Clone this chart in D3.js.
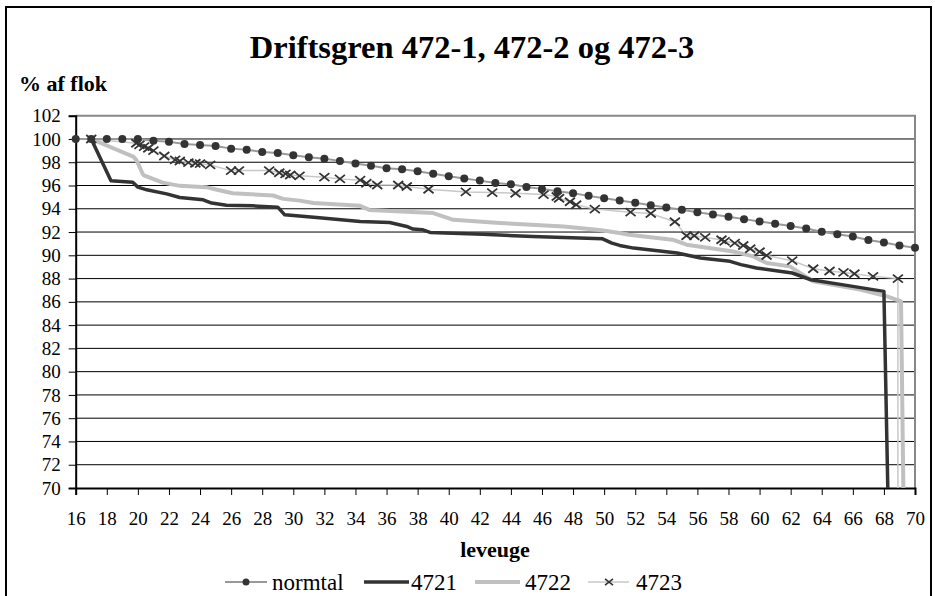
<!DOCTYPE html>
<html>
<head>
<meta charset="utf-8">
<script src="https://cdn.jsdelivr.net/npm/d3@7/dist/d3.min.js"></script>
</head>
<body style="margin:0">
<svg id="fig" width="935" height="596"></svg>
<script>
// ---- data ----
const titleText = "Driftsgren 472-1, 472-2 og 472-3";
const yTitle = "% af flok";
const xTitle = "leveuge";
const xTicks = d3.range(16, 71, 2);
const yTicks = d3.range(70, 103, 2);

const normtalWeeks = d3.range(16, 71, 1);
const normtalValues = [100, 100, 100, 100, 100, 99.85, 99.77, 99.57, 99.49, 99.4,
  99.17, 99.08, 98.88, 98.8, 98.6, 98.42, 98.31, 98.11, 97.9, 97.7,
  97.48, 97.4, 97.23, 97.02, 96.8, 96.6, 96.42, 96.22, 96.11, 95.88,
  95.71, 95.51, 95.34, 95.11, 94.91, 94.71, 94.51, 94.31, 94.11, 93.91,
  93.71, 93.51, 93.31, 93.11, 92.91, 92.71, 92.51, 92.31, 92.02, 91.82,
  91.62, 91.31, 91.11, 90.85, 90.65];

const s4721Weeks = [17, 18.27, 19.67, 20, 20.57, 21.85, 22.7, 24.2, 24.75, 25.7, 27.4, 29.0, 29.45,
  31.5, 34.3, 36.2, 37.3, 37.7, 38.3, 38.8, 42.2, 45.4, 49.9, 50.5, 51.0, 51.9, 54.7, 56.2,
  58.1, 58.8, 59.8, 62.1, 63.3, 66.0, 68.0, 68.25];
const s4721Values = [100, 96.4, 96.28, 95.86, 95.63, 95.28, 94.97, 94.77, 94.49, 94.31, 94.25, 94.14, 93.48,
  93.25, 92.9, 92.82, 92.48, 92.26, 92.2, 91.97, 91.8, 91.62, 91.42, 91.05, 90.85, 90.62, 90.2, 89.77,
  89.48, 89.2, 88.91, 88.48, 87.9, 87.33, 86.9, 70];

const s4722Weeks = [17, 19.7, 19.9, 20.35, 21.6, 22.7, 24.4, 25.1, 26.1, 28.7, 29.35, 30.4, 31.3, 34.3,
  34.9, 39.0, 40.3, 43.3, 47.4, 49.7, 51.0, 51.6, 54.4, 55.3, 58.3, 59.6, 60.45, 61.95, 63.45,
  66.45, 68.2, 69.1, 69.25];
const s4722Values = [100, 98.48, 98.2, 96.9, 96.25, 95.97, 95.86, 95.63, 95.34, 95.14, 94.85, 94.7, 94.5, 94.25,
  93.9, 93.63, 93.05, 92.77, 92.48, 92.17, 91.91, 91.77, 91.34, 90.91, 90.33, 89.91, 89.34, 89.05, 87.76,
  87.05, 86.47, 86.05, 70];

const s4723Weeks = [17, 19.9, 20.1, 20.4, 20.67, 21.0, 21.7, 22.4, 22.7, 23.25, 23.7, 24.0, 24.65, 26.0,
  26.5, 28.45, 29.1, 29.5, 29.8, 30.4, 32.0, 33.0, 34.3, 34.7, 35.4, 36.75, 37.3, 38.7, 41.1, 42.8,
  44.3, 46.1, 46.95, 47.1, 47.8, 48.2, 49.4, 51.7, 53.0, 54.55, 55.3, 55.8, 56.5, 57.55, 57.75,
  58.4, 58.95, 59.4, 60.0, 60.45, 62.1, 63.45, 64.5, 65.4, 66.1, 67.3, 68.9, 68.9];
const s4723Values = [100, 99.63, 99.49, 99.34, 99.2, 99.0, 98.54, 98.2, 98.11, 97.97, 97.91, 97.88, 97.77, 97.28,
  97.28, 97.28, 97.1, 97.0, 96.9, 96.83, 96.72, 96.57, 96.46, 96.2, 96.05, 96.05, 95.91, 95.68, 95.45, 95.39,
  95.34, 95.22, 95.05, 94.91, 94.6, 94.34, 93.97, 93.71, 93.6, 92.88, 91.68, 91.68, 91.54, 91.34, 91.2,
  91.05, 90.85, 90.57, 90.31, 89.99, 89.54, 88.85, 88.65, 88.53, 88.42, 88.19, 88.0, 70];

const seriesNames = ["normtal", "4721", "4722", "4723"];

// ---- layout ----
const FONT = "'Liberation Serif', monospace";
const svg = d3.select("#fig");
const L = 75.7, R = 915, T = 115.7, B = 488;
const x = d3.scaleLinear().domain([16, 70]).range([L, R]);
const y = d3.scaleLinear().domain([70, 102]).range([B, T]);

const dark = "#333333", light = "#c0c0c0";
const setFont = sel => sel.attr("font-family", FONT).style("font-family", FONT, "important");

// outer border
svg.append("rect").attr("x", 6).attr("y", 7).attr("width", 925).attr("height", 600)
  .attr("fill", "#fff").attr("stroke", "#000").attr("stroke-width", 2);

// titles
svg.append("text").attr("x", 472).attr("y", 57.7).attr("text-anchor", "middle").call(setFont)
  .attr("font-size", 32.5).attr("font-weight", "bold").attr("fill", "#000").text(titleText);
svg.append("text").attr("x", 19).attr("y", 90.5).call(setFont)
  .attr("font-size", 22).attr("font-weight", "bold").attr("fill", "#000").text(yTitle);
svg.append("text").attr("x", 495).attr("y", 556.5).attr("text-anchor", "middle").call(setFont)
  .attr("font-size", 22).attr("font-weight", "bold").attr("fill", "#000").text(xTitle);

// gridlines
svg.append("g").selectAll("line").data(yTicks.filter(v => v > 70 && v < 102)).join("line")
  .attr("x1", L).attr("x2", R).attr("y1", d => y(d)).attr("y2", d => y(d))
  .attr("stroke", "#000").attr("stroke-width", 1);

// plot border top/right
svg.append("path").attr("d", `M${L},${T}H${R}V${B}`).attr("fill", "none")
  .attr("stroke", "#888").attr("stroke-width", 2);

// axes
const yAxis = d3.axisLeft(y).tickValues(yTicks).tickSize(7).tickPadding(8).tickFormat(d3.format("d"));
const gy = svg.append("g").attr("transform", `translate(${L},0)`).call(yAxis);
gy.attr("font-family", FONT).attr("font-size", 19);
gy.select(".domain").attr("stroke", "#000").attr("stroke-width", 2);
gy.selectAll(".tick line").attr("stroke", "#000").attr("stroke-width", 1);
gy.selectAll(".tick text").attr("fill", "#000").attr("font-size", 19).call(setFont);

const xAxis = d3.axisBottom(x).tickValues(xTicks).tickSize(7).tickPadding(17).tickFormat(d3.format("d"));
const gx = svg.append("g").attr("transform", `translate(0,${B})`).call(xAxis);
gx.attr("font-family", FONT).attr("font-size", 19);
gx.select(".domain").attr("stroke", "#000").attr("stroke-width", 2);
gx.selectAll(".tick line").attr("stroke", "#000").attr("stroke-width", 1);
gx.selectAll(".tick text").attr("fill", "#000").attr("font-size", 19).call(setFont);

// clip
svg.append("clipPath").attr("id", "plotclip").append("rect")
  .attr("x", L - 2).attr("y", T - 6).attr("width", R - L + 4).attr("height", B - T + 6);

const line = d3.line().x(d => x(d[0])).y(d => y(d[1]));
const zip = (a, b) => a.map((v, i) => [v, b[i]]);

const dN = zip(normtalWeeks, normtalValues);
const d1 = zip(s4721Weeks, s4721Values);
const d2 = zip(s4722Weeks, s4722Values);
const d3s = zip(s4723Weeks, s4723Values);

const gl = svg.append("g").attr("clip-path", "url(#plotclip)");
gl.append("path").datum(d3s).attr("d", line).attr("fill", "none").attr("stroke", "#c8c8c8").attr("stroke-width", 1.5);
gl.append("path").datum(d2).attr("d", line).attr("fill", "none").attr("stroke", light).attr("stroke-width", 4).attr("stroke-linejoin", "round");
gl.append("path").datum(d1).attr("d", line).attr("fill", "none").attr("stroke", dark).attr("stroke-width", 3.5).attr("stroke-linejoin", "round");
gl.append("path").datum(dN).attr("d", line).attr("fill", "none").attr("stroke", "#999").attr("stroke-width", 2);

// markers
const xMark = (cx, cy, s) => `M${cx - s},${cy - s * 0.8}L${cx + s},${cy + s * 0.8}M${cx - s},${cy + s * 0.8}L${cx + s},${cy - s * 0.8}`;
svg.append("g").selectAll("path").data(d3s.filter(d => d[1] > 70)).join("path")
  .attr("d", d => xMark(x(d[0]), y(d[1]), 5)).attr("stroke", dark).attr("stroke-width", 1.8).attr("fill", "none");
svg.append("g").selectAll("circle").data(dN).join("circle")
  .attr("cx", d => x(d[0])).attr("cy", d => y(d[1])).attr("r", 4).attr("fill", dark);

// legend
const lg = svg.append("g");
const ly = 582, lbase = 590;
lg.append("line").attr("x1", 225).attr("x2", 267).attr("y1", ly).attr("y2", ly).attr("stroke", "#999").attr("stroke-width", 2);
lg.append("circle").attr("cx", 246).attr("cy", ly).attr("r", 3.5).attr("fill", dark);
lg.append("line").attr("x1", 364).attr("x2", 409).attr("y1", ly).attr("y2", ly).attr("stroke", dark).attr("stroke-width", 3.5);
lg.append("line").attr("x1", 475).attr("x2", 520).attr("y1", ly).attr("y2", ly).attr("stroke", light).attr("stroke-width", 4);
lg.append("line").attr("x1", 588).attr("x2", 629).attr("y1", ly).attr("y2", ly).attr("stroke", "#c8c8c8").attr("stroke-width", 1.5);
lg.append("path").attr("d", xMark(609, ly, 4)).attr("stroke", dark).attr("stroke-width", 1.6).attr("fill", "none");
const legendX = [272, 411, 525, 636];
lg.selectAll("text.lt").data(seriesNames).join("text").attr("class", "lt")
  .attr("x", (d, i) => legendX[i]).attr("y", lbase).attr("font-size", 23).attr("fill", "#000")
  .call(setFont).text(d => d);
</script>
</body>
</html>
